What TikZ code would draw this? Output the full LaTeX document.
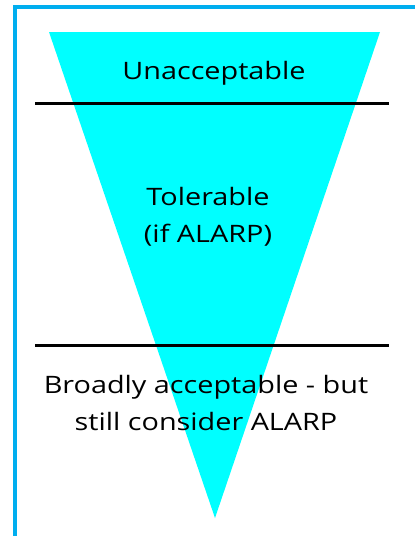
\documentclass[tikz,border=0pt]{standalone}
\usepackage{fontspec}
\setmainfont{Open Sans}[FakeStretch=1.2]
\definecolor{framblue}{RGB}{0,174,239}
\definecolor{tricyan}{RGB}{0,255,255}
\tikzset{
  lbl/.style={font=\fontsize{24}{37}\selectfont, align=center, text=black, inner sep=0pt},
  sep/.style={line width=3pt, black},
  frame/.style={line width=3.5pt, framblue}
}
\begin{document}
\begin{tikzpicture}[x=1pt,y=-1pt]
\useasboundingbox (0,0) rectangle (415,536);
\fill[white] (0,0) rectangle (415,536);
\fill[tricyan] (49,32) -- (380,32) -- (215,518) -- cycle;
\coordinate (l1a) at (35,103); \coordinate (l1b) at (389,103);
\coordinate (l2a) at (35,345); \coordinate (l2b) at (389,345);
\draw[sep] (l1a) -- (l1b);
\draw[sep] (l2a) -- (l2b);
\coordinate (fa) at (15,540); \coordinate (fb) at (15,7); \coordinate (fc) at (420,7);
\draw[frame] (fa) -- (fb) -- (fc);
\node[lbl, anchor=base] (u) at (214,79) {Unacceptable};
\node[lbl, anchor=base] (t) at (208,242) {Tolerable\\(if ALARP)};
\node[lbl, anchor=base] (b) at (206,430) {Broadly acceptable - but\\still consider ALARP};
\end{tikzpicture}
\end{document}
